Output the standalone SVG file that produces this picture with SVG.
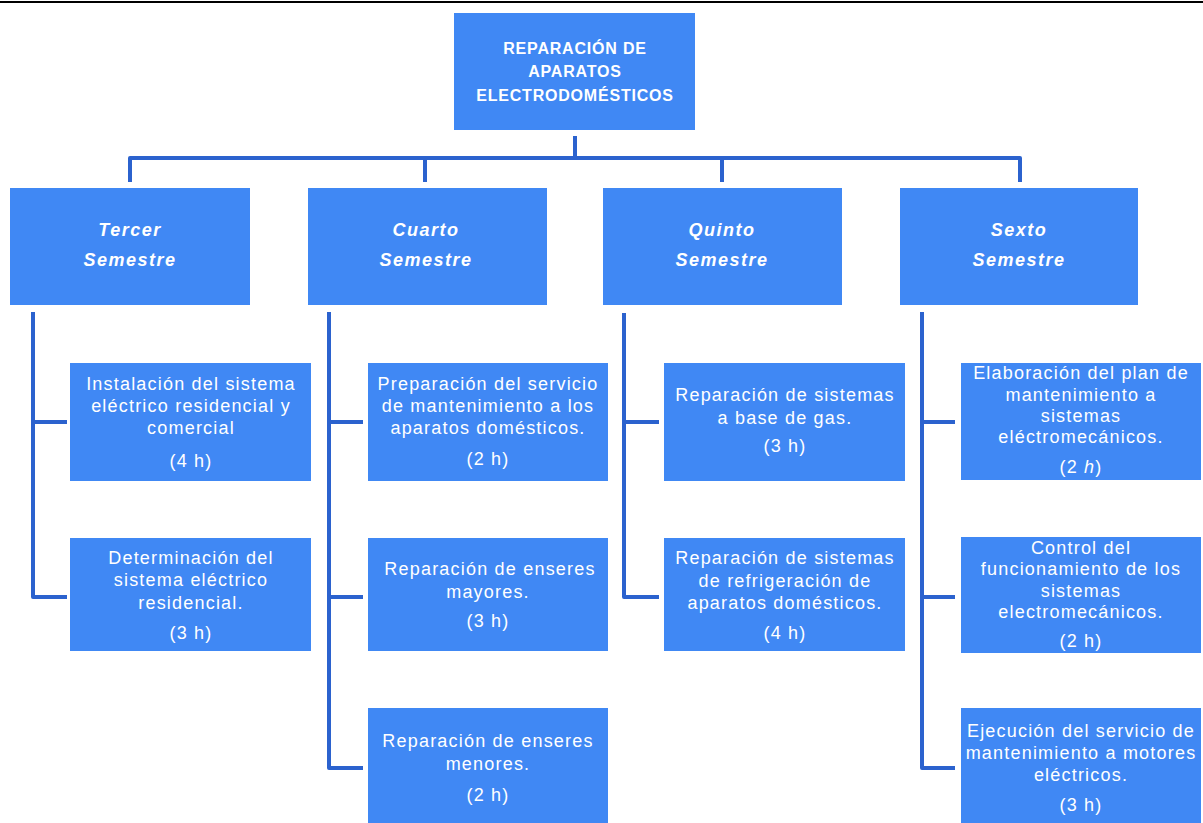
<svg xmlns="http://www.w3.org/2000/svg" width="1203" height="823" viewBox="0 0 1203 823">
<style>
.box{fill:#4088F4;}
.t{font-family:"Liberation Sans",Arial,sans-serif;font-size:18px;fill:#ffffff;text-anchor:middle;letter-spacing:1.2px;}
.sem{font-family:"Liberation Sans",Arial,sans-serif;font-size:18px;font-weight:bold;font-style:italic;fill:#ffffff;text-anchor:middle;letter-spacing:1.5px;}
.root{font-family:"Liberation Sans",Arial,sans-serif;font-size:16px;font-weight:bold;fill:#ffffff;text-anchor:middle;letter-spacing:0.8px;}
.c{fill:none;stroke:#2B62CE;stroke-width:4;stroke-linejoin:round;}
</style>
<rect x="0" y="0" width="1203" height="823" fill="#ffffff"/>
<line x1="0" y1="2" x2="1203" y2="2" stroke="#000000" stroke-width="2"/>
<g id="connectors">
<path class="c" d="M575 136 V158"/>
<path class="c" d="M130 182 V158 H1020 V182"/>
<path class="c" d="M425 158 V182"/>
<path class="c" d="M722 158 V182"/>
<path class="c" d="M33 312 V597 H67 M33 422 H67"/>
<path class="c" d="M329 312 V768 H363 M329 422 H363 M329 597 H363"/>
<path class="c" d="M624 313 V597 H659 M624 422 H659"/>
<path class="c" d="M922 312 V768 H955 M922 422 H955 M922 597 H955"/>
</g>
<g id="root">
<rect class="box" x="454" y="13" width="241" height="117"/>
<text class="root" x="575" y="54">REPARACIÓN DE</text>
<text class="root" x="575" y="77">APARATOS</text>
<text class="root" x="575" y="101">ELECTRODOMÉSTICOS</text>
</g>
<g id="sem3">
<rect class="box" x="10" y="188" width="240" height="117"/>
<text class="sem" x="130" y="236">Tercer</text>
<text class="sem" x="130" y="266">Semestre</text>
</g>
<g id="sem4">
<rect class="box" x="308" y="188" width="239" height="117"/>
<text class="sem" x="426" y="236">Cuarto</text>
<text class="sem" x="426" y="266">Semestre</text>
</g>
<g id="sem5">
<rect class="box" x="603" y="188" width="239" height="117"/>
<text class="sem" x="722" y="236">Quinto</text>
<text class="sem" x="722" y="266">Semestre</text>
</g>
<g id="sem6">
<rect class="box" x="900" y="188" width="238" height="117"/>
<text class="sem" x="1019" y="236">Sexto</text>
<text class="sem" x="1019" y="266">Semestre</text>
</g>
<g id="t1">
<rect class="box" x="70" y="363" width="241" height="118"/>
<text class="t" x="191" y="390">Instalación del sistema</text>
<text class="t" x="191" y="412">eléctrico residencial y</text>
<text class="t" x="191" y="434">comercial</text>
<text class="t" x="191" y="467">(4 h)</text>
</g>
<g id="t2">
<rect class="box" x="70" y="538" width="241" height="113"/>
<text class="t" x="191" y="564">Determinación del</text>
<text class="t" x="191" y="586">sistema eléctrico</text>
<text class="t" x="191" y="609">residencial.</text>
<text class="t" x="191" y="639">(3 h)</text>
</g>
<g id="c1">
<rect class="box" x="368" y="363" width="240" height="118"/>
<text class="t" x="488" y="390">Preparación del servicio</text>
<text class="t" x="488" y="412">de mantenimiento a los</text>
<text class="t" x="488" y="434">aparatos domésticos.</text>
<text class="t" x="488" y="465">(2 h)</text>
</g>
<g id="c2">
<rect class="box" x="368" y="538" width="240" height="113"/>
<text class="t" x="490" y="575">Reparación de enseres</text>
<text class="t" x="488" y="598">mayores.</text>
<text class="t" x="488" y="627">(3 h)</text>
</g>
<g id="c3">
<rect class="box" x="368" y="708" width="240" height="115"/>
<text class="t" x="488" y="747">Reparación de enseres</text>
<text class="t" x="488" y="770">menores.</text>
<text class="t" x="488" y="801">(2 h)</text>
</g>
<g id="q1">
<rect class="box" x="664" y="363" width="241" height="118"/>
<text class="t" x="785" y="401">Reparación de sistemas</text>
<text class="t" x="785" y="424">a base de gas.</text>
<text class="t" x="785" y="452">(3 h)</text>
</g>
<g id="q2">
<rect class="box" x="664" y="538" width="241" height="113"/>
<text class="t" x="785" y="564">Reparación de sistemas</text>
<text class="t" x="785" y="587">de refrigeración de</text>
<text class="t" x="785" y="609">aparatos domésticos.</text>
<text class="t" x="785" y="639">(4 h)</text>
</g>
<g id="s1">
<rect class="box" x="961" y="363" width="240" height="117"/>
<text class="t" x="1081" y="379">Elaboración del plan de</text>
<text class="t" x="1081" y="401">mantenimiento a</text>
<text class="t" x="1081" y="422">sistemas</text>
<text class="t" x="1081" y="443">eléctromecánicos.</text>
<text class="t" x="1081" y="473">(2 <tspan font-style="italic">h</tspan>)</text>
</g>
<g id="s2">
<rect class="box" x="961" y="537" width="240" height="116"/>
<text class="t" x="1081" y="554">Control del</text>
<text class="t" x="1081" y="575">funcionamiento de los</text>
<text class="t" x="1081" y="597">sistemas</text>
<text class="t" x="1081" y="618">electromecánicos.</text>
<text class="t" x="1081" y="647">(2 h)</text>
</g>
<g id="s3">
<rect class="box" x="961" y="708" width="240" height="115"/>
<text class="t" x="1081" y="737">Ejecución del servicio de</text>
<text class="t" x="1081" y="759">mantenimiento a motores</text>
<text class="t" x="1081" y="781">eléctricos.</text>
<text class="t" x="1081" y="811">(3 h)</text>
</g>
</svg>
